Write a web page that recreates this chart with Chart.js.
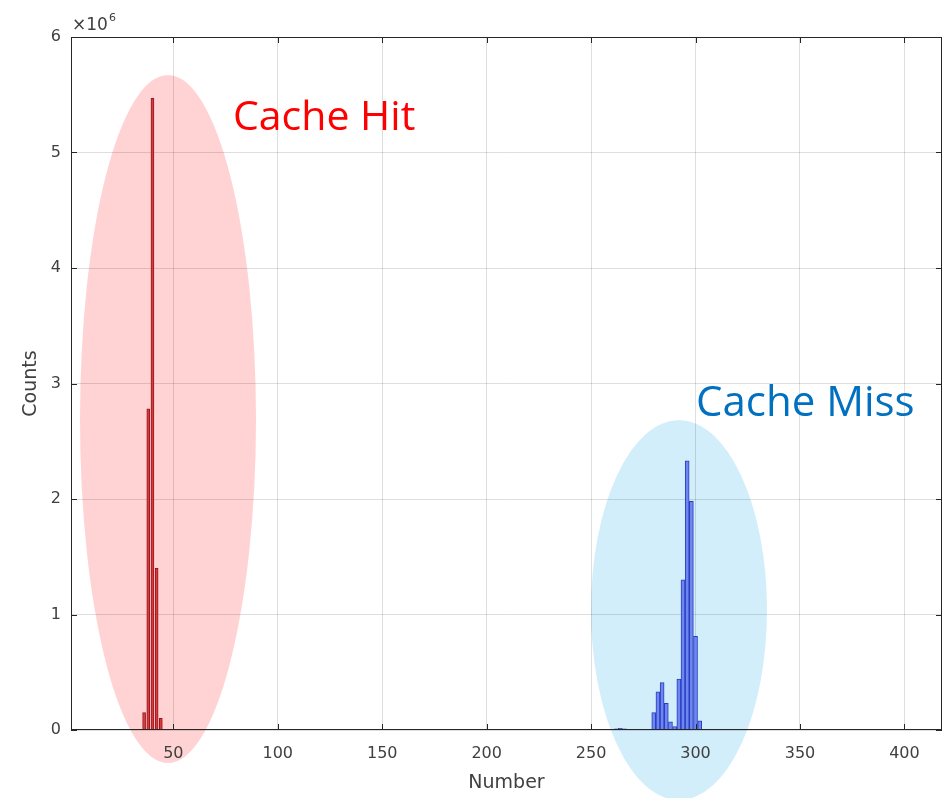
<html>
<head>
    <meta charset="UTF-8">
    <title>Cache Hit / Cache Miss</title>
    <script src="https://cdn.jsdelivr.net/npm/chart.js"></script>
    <style>
        body { margin: 0; background: #fff; }
    </style>
</head>
<body>
    <canvas id="myChart" width="950" height="798"></canvas>
    <script>
        const hitNumbers = [36, 38, 40, 42, 44];
        const hitCounts = [0.15, 2.78, 5.47, 1.40, 0.10];

        const missNumbers = [262, 264, 266, 280, 282, 284, 286, 288, 290, 292, 294, 296, 298, 300, 302];
        const missCounts = [0.01, 0.015, 0.01, 0.15, 0.33, 0.41, 0.23, 0.07, 0.03, 0.44, 1.30, 2.33, 1.98, 0.81, 0.08];

        const xTicks = [50, 100, 150, 200, 250, 300, 350, 400];
        const yTicks = [0, 1, 2, 3, 4, 5, 6];

        const toPoints = (xs, ys) => xs.map((x, i) => ({ x: x, y: ys[i] * 1e6 }));

        const fuente = '"DejaVu Sans", sans-serif';

        // Elipses y textos de anotación
        const anotaciones = {
            id: 'anotaciones',
            beforeDraw(chart) {
                const ctx = chart.ctx;
                ctx.save();
                ctx.fillStyle = 'rgba(255, 150, 150, 0.42)';
                ctx.beginPath();
                ctx.ellipse(168, 419, 88, 344, 0, 0, Math.PI * 2);
                ctx.fill();
                ctx.fillStyle = 'rgba(140, 210, 245, 0.38)';
                ctx.beginPath();
                ctx.ellipse(679, 610, 88, 190, 0, 0, Math.PI * 2);
                ctx.fill();
                ctx.restore();
            },
            afterDraw(chart) {
                const ctx = chart.ctx;
                const area = chart.chartArea;
                const x = chart.scales.x;
                const y = chart.scales.y;
                ctx.save();
                // caja y marcas hacia dentro
                ctx.strokeStyle = '#262626';
                ctx.lineWidth = 1;
                ctx.strokeRect(area.left + 0.5, area.top + 0.5, area.right - area.left - 1, area.bottom - area.top - 1);
                ctx.beginPath();
                xTicks.forEach(v => {
                    const px = Math.round(x.getPixelForValue(v)) + 0.5;
                    ctx.moveTo(px, area.bottom); ctx.lineTo(px, area.bottom - 6);
                    ctx.moveTo(px, area.top); ctx.lineTo(px, area.top + 6);
                });
                yTicks.forEach(v => {
                    const py = Math.round(y.getPixelForValue(v * 1e6)) + 0.5;
                    ctx.moveTo(area.left, py); ctx.lineTo(area.left + 6, py);
                    ctx.moveTo(area.right, py); ctx.lineTo(area.right - 6, py);
                });
                ctx.stroke();

                // exponente del eje y
                ctx.fillStyle = '#404040';
                ctx.textBaseline = 'alphabetic';
                ctx.font = '17px ' + fuente;
                ctx.fillText('\u00d710', area.left + 1, 30);
                const w = ctx.measureText('\u00d710').width;
                ctx.font = '11px ' + fuente;
                ctx.fillText('6', area.left + 2 + w, 21);

                // textos
                ctx.font = '41px "Open Sans", sans-serif';
                ctx.fillStyle = '#ff0000';
                ctx.fillText('Cache Hit', 233, 130);
                ctx.font = '42px "Open Sans", sans-serif';
                ctx.fillStyle = '#0070c0';
                ctx.fillText('Cache Miss', 696, 416);
                ctx.restore();
            }
        };

        const ctx = document.getElementById('myChart').getContext('2d');
        const myChart = new Chart(ctx, {
            type: 'bar',
            data: {
                datasets: [{
                    label: 'Cache Hit',
                    data: toPoints(hitNumbers, hitCounts),
                    backgroundColor: 'rgba(215, 60, 60, 1)',
                    borderColor: 'rgba(150, 20, 30, 1)',
                    borderWidth: 1,
                    barThickness: 3,
                    grouped: false
                }, {
                    label: 'Cache Miss',
                    data: toPoints(missNumbers, missCounts),
                    backgroundColor: 'rgba(110, 135, 240, 1)',
                    borderColor: 'rgba(40, 60, 190, 1)',
                    borderWidth: 1,
                    barThickness: 4,
                    grouped: false
                }]
            },
            options: {
                responsive: false,
                animation: false,
                layout: { padding: { top: 37, right: 8, left: 0, bottom: 0 } },
                plugins: {
                    legend: { display: false },
                    tooltip: { enabled: false }
                },
                scales: {
                    x: {
                        type: 'linear',
                        min: 1,
                        max: 418,
                        offset: false,
                        afterBuildTicks: s => { s.ticks = xTicks.map(v => ({ value: v })); },
                        afterFit: s => { s.height = 68; },
                        grid: { color: 'rgba(0, 0, 0, 0.13)', drawTicks: false, offset: false },
                        border: { display: false },
                        ticks: {
                            padding: 14,
                            color: '#404040',
                            font: { family: fuente, size: 16 }
                        },
                        title: {
                            display: true,
                            text: 'Number',
                            color: '#404040',
                            font: { family: fuente, size: 19 },
                            padding: { top: 0, bottom: 4 }
                        }
                    },
                    y: {
                        type: 'linear',
                        min: 0,
                        max: 6e6,
                        afterBuildTicks: s => { s.ticks = yTicks.map(v => ({ value: v * 1e6 })); },
                        afterFit: s => { s.width = 71; },
                        grid: { color: 'rgba(0, 0, 0, 0.13)', drawTicks: false },
                        border: { display: false },
                        ticks: {
                            padding: 10,
                            color: '#404040',
                            font: { family: fuente, size: 16 },
                            callback: v => v / 1e6
                        },
                        title: {
                            display: true,
                            text: 'Counts',
                            color: '#404040',
                            font: { family: fuente, size: 19 },
                            padding: { top: 20, bottom: 0 }
                        }
                    }
                }
            },
            plugins: [anotaciones]
        });
    </script>
</body>
</html>
